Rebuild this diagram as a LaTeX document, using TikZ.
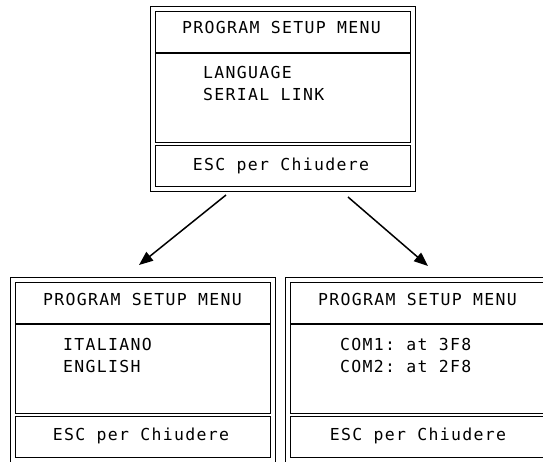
\documentclass[tikz,border=0pt]{standalone}
\usepackage{fontspec}
\setmonofont{DejaVu Sans Mono}[LetterSpace=8]
\usetikzlibrary{arrows.meta}
\tikzset{
  frame/.style={draw, line width=1.4pt, inner sep=0pt, anchor=north west},
  divline/.style={line width=1.4pt},
  lbl/.style={inner sep=0pt, font=\fontsize{16.5}{18}\ttfamily},
  conn/.style={line width=1.5pt, -{Triangle[length=14pt,width=11pt]}}
}
\begin{document}
\begin{tikzpicture}[x=1pt,y=-1pt]
\clip (0,0) rectangle (543,461);
\fill[white] (0,0) rectangle (543,461);
% ---- top box
\node[frame, minimum width=265pt, minimum height=185pt] (topO) at (150,6) {};
\node[frame, minimum width=255pt, minimum height=131pt] (topI) at (155,11) {};
\node[frame, minimum width=255pt, minimum height=41pt] (topF) at (155,145) {};
\draw[divline] (155,53) coordinate (topD1) -- (410,53) coordinate (topD2);
\node[lbl, anchor=base] (t1) at (281.5,33) {PROGRAM SETUP MENU};
\node[lbl, anchor=base west] (t2) at (203,78) {LANGUAGE};
\node[lbl, anchor=base west] (t3) at (203,100) {SERIAL LINK};
\node[lbl, anchor=base] (t4) at (281,170) {ESC per Chiudere};
% ---- left box
\node[frame, minimum width=265pt, minimum height=186pt] (lO) at (10,277) {};
\node[frame, minimum width=255pt, minimum height=131pt] (lI) at (15,282) {};
\node[frame, minimum width=255pt, minimum height=41pt] (lF) at (15,416) {};
\draw[divline] (15,324) coordinate (lD1) -- (270,324) coordinate (lD2);
\node[lbl, anchor=base] (l1) at (142.5,305) {PROGRAM SETUP MENU};
\node[lbl, anchor=base west] (l2) at (63,350) {ITALIANO};
\node[lbl, anchor=base west] (l3) at (63,372) {ENGLISH};
\node[lbl, anchor=base] (l4) at (141,440) {ESC per Chiudere};
% ---- right box
\node[frame, minimum width=265pt, minimum height=186pt] (rO) at (285,277) {};
\node[frame, minimum width=255pt, minimum height=131pt] (rI) at (290,282) {};
\node[frame, minimum width=255pt, minimum height=41pt] (rF) at (290,416) {};
\draw[divline] (290,324) coordinate (rD1) -- (545,324) coordinate (rD2);
\node[lbl, anchor=base] (r1) at (417.5,305) {PROGRAM SETUP MENU};
\node[lbl, anchor=base west] (r2) at (340,350) {COM1: at 3F8};
\node[lbl, anchor=base west] (r3) at (340,372) {COM2: at 2F8};
\node[lbl, anchor=base] (r4) at (418,440) {ESC per Chiudere};
% ---- connectors
\coordinate (a1s) at (226,195);
\coordinate (a1e) at (139,265);
\coordinate (a2s) at (348,197);
\coordinate (a2e) at (428,266);
\draw[conn] (a1s) -- (a1e);
\draw[conn] (a2s) -- (a2e);
\end{tikzpicture}
\end{document}
